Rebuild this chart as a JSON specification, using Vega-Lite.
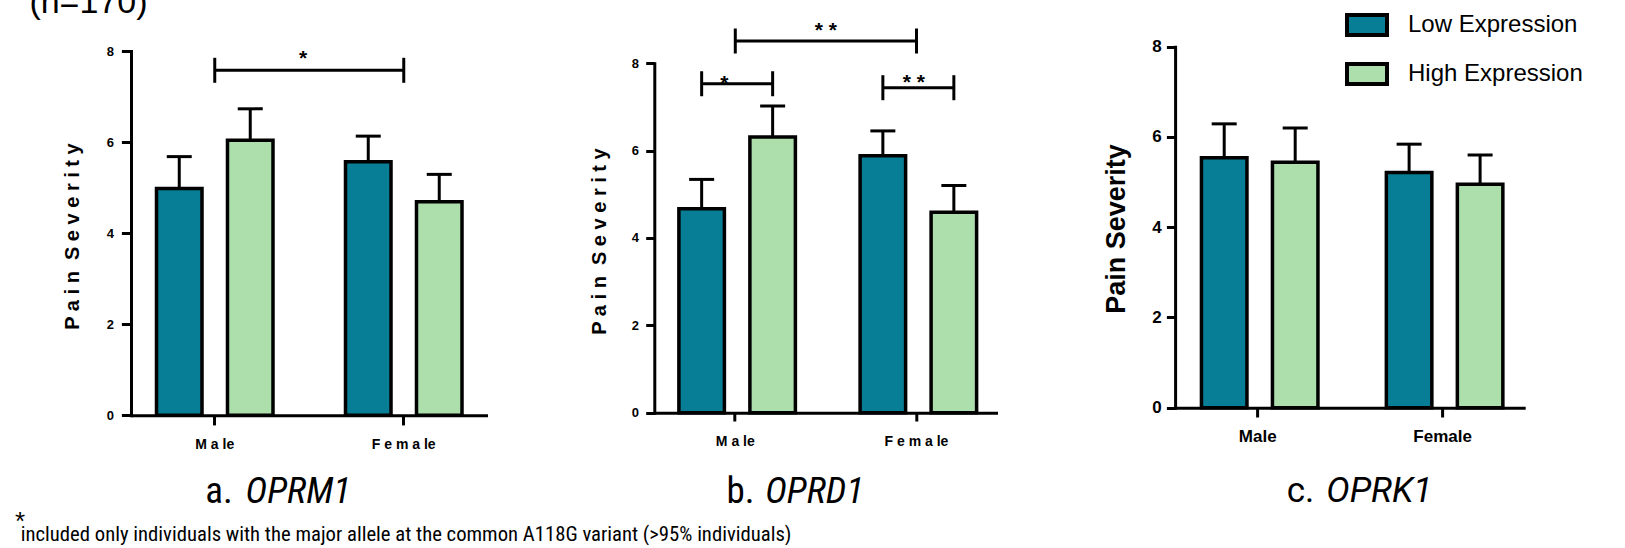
{
  "$schema": "https://vega.github.io/schema/vega-lite/v6.json",
  "padding": {"left": 15, "top": -15, "right": 0, "bottom": 0},
  "background": "white",
  "config": {
    "font": "Liberation Sans",
    "view": {"stroke": null},
    "axis": {"grid": false, "domainColor": "black", "tickColor": "black", "labelColor": "black", "titleColor": "black", "domainWidth": 3, "tickWidth": 3, "labelFont": "Liberation Sans", "titleFont": "Liberation Sans", "labelFontWeight": "bold", "titleFontWeight": "bold"}
  },
  "spacing": 166.3,
  "bounds": "flush",
  "hconcat": [
    {
      "width": 356.5,
      "height": 374.2,
      "layer": [
        {
          "data": {"values": [
            {"sex": "Male", "expression": "Low Expression", "mean": 4.98, "upper": 5.68},
            {"sex": "Male", "expression": "High Expression", "mean": 6.04, "upper": 6.73},
            {"sex": "Female", "expression": "Low Expression", "mean": 5.57, "upper": 6.13},
            {"sex": "Female", "expression": "High Expression", "mean": 4.69, "upper": 5.29}
          ]},
          "layer": [
            {
              "mark": {"type": "bar", "stroke": "black", "strokeWidth": 3.5},
              "encoding": {
                "x": {"field": "sex", "type": "nominal", "scale": {"domain": ["Male", "Female"], "paddingInner": 0.3836, "paddingOuter": 0.1349},
                  "axis": {"title": null, "labelAngle": 0, "bandPosition": 0.5, "tickSize": 9.7, "labelPadding": 13, "labelFontSize": 14, "labelExpr": "datum.value == 'Male' ? 'M a le' : 'F e m a le'"}},
                "xOffset": {"field": "expression", "type": "nominal", "scale": {"domain": ["Low Expression", "High Expression"], "paddingInner": 0.359, "paddingOuter": 0}},
                "y": {"field": "mean", "type": "quantitative", "scale": {"domain": [0, 8], "range": [374.2, 10]},
                  "axis": {"values": [0, 2, 4, 6, 8], "domainCap": "square", "tickSize": 9.6, "labelPadding": 7.8, "labelFontSize": 13, "title": "P a i n\u00a0 S e v e r i t y", "titleFontSize": 20, "titleX": -58.7, "titleY": 195, "titleAngle": 270, "titleAlign": "center", "titleBaseline": "middle"}},
                "color": {"field": "expression", "type": "nominal", "scale": {"domain": ["Low Expression", "High Expression"], "range": ["#087E96", "#ADDFAD"]},
                  "legend": {"title": null, "orient": "none", "legendX": 1214, "legendY": -38, "symbolType": "M-1,-0.5H1V0.5H-1Z", "symbolSize": 1600, "symbolStrokeColor": "black", "symbolStrokeWidth": 4, "symbolOpacity": 1, "labelFont": "Liberation Sans", "labelFontSize": 24, "labelColor": "black", "labelOffset": 19, "labelLimit": 0, "rowPadding": 9, "padding": 0}}
              }
            },
            {
              "mark": {"type": "rule", "color": "black", "strokeWidth": 3},
              "encoding": {
                "x": {"field": "sex", "type": "nominal"},
                "xOffset": {"field": "expression", "type": "nominal"},
                "y": {"field": "mean", "type": "quantitative"},
                "y2": {"field": "upper"}
              }
            },
            {
              "mark": {"type": "tick", "orient": "horizontal", "color": "black", "size": 25, "thickness": 3, "opacity": 1},
              "encoding": {
                "x": {"field": "sex", "type": "nominal"},
                "xOffset": {"field": "expression", "type": "nominal"},
                "y": {"field": "upper", "type": "quantitative"}
              }
            }
          ]
        },
        {
          "data": {"values": [
            {"bracket": "a1", "sex": "Male", "level": 7.576},
            {"bracket": "a1", "sex": "Female", "level": 7.576}
          ]},
          "layer": [
            {
              "mark": {"type": "line", "color": "black", "strokeWidth": 3},
              "encoding": {
                "x": {"field": "sex", "type": "nominal"},
                "y": {"field": "level", "type": "quantitative"},
                "detail": {"field": "bracket"}
              }
            },
            {
              "mark": {"type": "tick", "orient": "vertical", "color": "black", "size": 25, "thickness": 3, "opacity": 1},
              "encoding": {
                "x": {"field": "sex", "type": "nominal"},
                "y": {"field": "level", "type": "quantitative"}
              }
            }
          ]
        },
        {
          "data": {"values": [{"label": "*"}]},
          "mark": {"type": "text", "fontSize": 21, "fontWeight": "bold", "align": "center", "baseline": "alphabetic", "color": "black", "clip": false},
          "encoding": {
            "x": {"datum": "Male", "type": "nominal", "bandPosition": 1.258},
            "y": {"datum": 7.69, "type": "quantitative"},
            "text": {"field": "label"}
          }
        },
        {
          "data": {"values": [{"label": "a."}]},
          "mark": {"type": "text", "font": "'Roboto Condensed', 'Liberation Sans'", "fontSize": 37, "align": "right", "baseline": "alphabetic", "color": "black", "clip": false},
          "encoding": {
            "x": {"datum": "Male", "type": "nominal", "bandPosition": 0.655},
            "y": {"datum": -1.922, "type": "quantitative"},
            "text": {"field": "label"}
          }
        },
        {
          "data": {"values": [{"label": "OPRM1"}]},
          "mark": {"type": "text", "font": "'Roboto Condensed', 'Liberation Sans'", "fontSize": 37, "fontStyle": "italic", "align": "left", "baseline": "alphabetic", "color": "black", "clip": false},
          "encoding": {
            "x": {"datum": "Male", "type": "nominal", "bandPosition": 0.765},
            "y": {"datum": -1.922, "type": "quantitative"},
            "text": {"field": "label"}
          }
        },
        {
          "data": {"values": [{"label": "*"}]},
          "mark": {"type": "text", "fontSize": 26, "align": "left", "baseline": "alphabetic", "color": "black", "clip": false},
          "encoding": {
            "x": {"datum": "Male", "type": "nominal", "bandPosition": -1.214},
            "y": {"datum": -2.513, "type": "quantitative"},
            "text": {"field": "label"}
          }
        },
        {
          "data": {"values": [{"label": "included only individuals with the major allele at the common A118G variant (>95% individuals)"}]},
          "mark": {"type": "text", "font": "'Roboto Condensed', 'Liberation Sans'", "fontSize": 20.7, "align": "left", "baseline": "alphabetic", "color": "black", "clip": false},
          "encoding": {
            "x": {"datum": "Male", "type": "nominal", "bandPosition": -1.165},
            "y": {"datum": -2.763, "type": "quantitative"},
            "text": {"field": "label"}
          }
        },
        {
          "data": {"values": [{"label": "(n=170)"}]},
          "mark": {"type": "text", "fontSize": 34, "align": "left", "baseline": "alphabetic", "color": "black", "clip": false},
          "encoding": {
            "x": {"datum": "Male", "type": "nominal", "bandPosition": -1.091},
            "y": {"datum": 8.835, "type": "quantitative"},
            "text": {"field": "label"}
          }
        }
      ]
    },
    {
      "spacing": 176.8,
      "bounds": "flush",
      "hconcat": [
        {
          "width": 343.2,
          "height": 371.7,
          "layer": [
            {
              "data": {"values": [
                {"sex": "Male", "expression": "Low Expression", "mean": 4.67, "upper": 5.34},
                {"sex": "Male", "expression": "High Expression", "mean": 6.31, "upper": 7.02},
                {"sex": "Female", "expression": "Low Expression", "mean": 5.88, "upper": 6.45},
                {"sex": "Female", "expression": "High Expression", "mean": 4.59, "upper": 5.2}
              ]},
              "layer": [
                {
                  "mark": {"type": "bar", "stroke": "black", "strokeWidth": 3.5},
                  "encoding": {
                    "x": {"field": "sex", "type": "nominal", "scale": {"domain": ["Male", "Female"], "paddingInner": 0.3775, "paddingOuter": 0.1357},
                      "axis": {"title": null, "labelAngle": 0, "bandPosition": 0.5, "tickSize": 8.3, "labelPadding": 13, "labelFontSize": 14, "labelExpr": "datum.value == 'Male' ? 'M a le' : 'F e m a le'"}},
                    "xOffset": {"field": "expression", "type": "nominal", "scale": {"domain": ["Low Expression", "High Expression"], "paddingInner": 0.348, "paddingOuter": 0}},
                    "y": {"field": "mean", "type": "quantitative", "scale": {"domain": [0, 8], "range": [371.7, 22.2]},
                      "axis": {"values": [0, 2, 4, 6, 8], "domainCap": "square", "tickSize": 8.6, "labelPadding": 7.2, "labelFontSize": 13, "title": "P a i n\u00a0 S e v e r i t y", "titleFontSize": 20, "titleX": -55.3, "titleY": 200, "titleAngle": 270, "titleAlign": "center", "titleBaseline": "middle"}},
                    "color": {"field": "expression", "type": "nominal", "scale": {"domain": ["Low Expression", "High Expression"], "range": ["#087E96", "#ADDFAD"]},
                      "legend": {"title": null, "orient": "none", "legendX": 1214, "legendY": -38, "symbolType": "M-1,-0.5H1V0.5H-1Z", "symbolSize": 1600, "symbolStrokeColor": "black", "symbolStrokeWidth": 4, "symbolOpacity": 1, "labelFont": "Liberation Sans", "labelFontSize": 24, "labelColor": "black", "labelOffset": 19, "labelLimit": 0, "rowPadding": 9, "padding": 0}}
                  }
                },
                {
                  "mark": {"type": "rule", "color": "black", "strokeWidth": 3},
                  "encoding": {
                    "x": {"field": "sex", "type": "nominal"},
                    "xOffset": {"field": "expression", "type": "nominal"},
                    "y": {"field": "mean", "type": "quantitative"},
                    "y2": {"field": "upper"}
                  }
                },
                {
                  "mark": {"type": "tick", "orient": "horizontal", "color": "black", "size": 25, "thickness": 3, "opacity": 1},
                  "encoding": {
                    "x": {"field": "sex", "type": "nominal"},
                    "xOffset": {"field": "expression", "type": "nominal"},
                    "y": {"field": "upper", "type": "quantitative"}
                  }
                }
              ]
            },
            {
              "data": {"values": [
                {"bracket": "b1", "sex": "Male", "level": 8.508},
                {"bracket": "b1", "sex": "Female", "level": 8.508}
              ]},
              "layer": [
                {
                  "mark": {"type": "line", "color": "black", "strokeWidth": 3},
                  "encoding": {
                    "x": {"field": "sex", "type": "nominal"},
                    "y": {"field": "level", "type": "quantitative"},
                    "detail": {"field": "bracket"}
                  }
                },
                {
                  "mark": {"type": "tick", "orient": "vertical", "color": "black", "size": 25, "thickness": 3, "opacity": 1},
                  "encoding": {
                    "x": {"field": "sex", "type": "nominal"},
                    "y": {"field": "level", "type": "quantitative"}
                  }
                }
              ]
            },
            {
              "data": {"values": [
                {"bracket": "b2", "sex": "Male", "expression": "Low Expression", "level": 7.53},
                {"bracket": "b2", "sex": "Male", "expression": "High Expression", "level": 7.53},
                {"bracket": "b3", "sex": "Female", "expression": "Low Expression", "level": 7.439},
                {"bracket": "b3", "sex": "Female", "expression": "High Expression", "level": 7.439}
              ]},
              "layer": [
                {
                  "mark": {"type": "line", "color": "black", "strokeWidth": 3},
                  "encoding": {
                    "x": {"field": "sex", "type": "nominal"},
                    "xOffset": {"field": "expression", "type": "nominal"},
                    "y": {"field": "level", "type": "quantitative"},
                    "detail": {"field": "bracket"}
                  }
                },
                {
                  "mark": {"type": "tick", "orient": "vertical", "color": "black", "size": 25, "thickness": 3, "opacity": 1},
                  "encoding": {
                    "x": {"field": "sex", "type": "nominal"},
                    "xOffset": {"field": "expression", "type": "nominal"},
                    "y": {"field": "level", "type": "quantitative"}
                  }
                }
              ]
            },
            {
              "data": {"values": [{"label": "*  *"}]},
              "mark": {"type": "text", "fontSize": 21, "fontWeight": "bold", "align": "center", "baseline": "alphabetic", "color": "black", "clip": false},
              "encoding": {
                "x": {"datum": "Male", "type": "nominal", "bandPosition": 1.303},
                "y": {"datum": 8.6, "type": "quantitative"},
                "text": {"field": "label"}
              }
            },
            {
              "data": {"values": [{"label": "*"}]},
              "mark": {"type": "text", "fontSize": 21, "fontWeight": "bold", "align": "center", "baseline": "alphabetic", "color": "black", "clip": false},
              "encoding": {
                "x": {"datum": "Male", "type": "nominal", "bandPosition": 0.404},
                "y": {"datum": 7.38, "type": "quantitative"},
                "text": {"field": "label"}
              }
            },
            {
              "data": {"values": [{"label": "*  *"}]},
              "mark": {"type": "text", "fontSize": 21, "fontWeight": "bold", "align": "center", "baseline": "alphabetic", "color": "black", "clip": false},
              "encoding": {
                "x": {"datum": "Female", "type": "nominal", "bandPosition": 0.476},
                "y": {"datum": 7.42, "type": "quantitative"},
                "text": {"field": "label"}
              }
            },
            {
              "data": {"values": [{"label": "b."}]},
              "mark": {"type": "text", "font": "'Roboto Condensed', 'Liberation Sans'", "fontSize": 37, "align": "right", "baseline": "alphabetic", "color": "black", "clip": false},
              "encoding": {
                "x": {"datum": "Male", "type": "nominal", "bandPosition": 0.67},
                "y": {"datum": -2.06, "type": "quantitative"},
                "text": {"field": "label"}
              }
            },
            {
              "data": {"values": [{"label": "OPRD1"}]},
              "mark": {"type": "text", "font": "'Roboto Condensed', 'Liberation Sans'", "fontSize": 37, "fontStyle": "italic", "align": "left", "baseline": "alphabetic", "color": "black", "clip": false},
              "encoding": {
                "x": {"datum": "Male", "type": "nominal", "bandPosition": 0.765},
                "y": {"datum": -2.06, "type": "quantitative"},
                "text": {"field": "label"}
              }
            }
          ]
        },
        {
          "width": 350.1,
          "height": 366.7,
          "layer": [
            {
              "data": {"values": [
                {"sex": "Male", "expression": "Low Expression", "mean": 5.54, "upper": 6.29},
                {"sex": "Male", "expression": "High Expression", "mean": 5.44, "upper": 6.2},
                {"sex": "Female", "expression": "Low Expression", "mean": 5.21, "upper": 5.84},
                {"sex": "Female", "expression": "High Expression", "mean": 4.95, "upper": 5.6}
              ]},
              "layer": [
                {
                  "mark": {"type": "bar", "stroke": "black", "strokeWidth": 3.5},
                  "encoding": {
                    "x": {"field": "sex", "type": "nominal", "scale": {"domain": ["Male", "Female"], "paddingInner": 0.3916, "paddingOuter": 0.1425},
                      "axis": {"title": null, "labelAngle": 0, "bandPosition": 0.5, "tickSize": 9.3, "labelPadding": 11.5, "labelFontSize": 17}},
                    "xOffset": {"field": "expression", "type": "nominal", "scale": {"domain": ["Low Expression", "High Expression"], "paddingInner": 0.393, "paddingOuter": 0}},
                    "y": {"field": "mean", "type": "quantitative", "scale": {"domain": [0, 8], "range": [366.7, 5.7]},
                      "axis": {"values": [0, 2, 4, 6, 8], "domainCap": "square", "tickSize": 8.7, "labelPadding": 5.1, "labelFontSize": 17, "title": "Pain Severity", "titleFontSize": 27, "titleX": -59, "titleY": 187.5, "titleAngle": 270, "titleAlign": "center", "titleBaseline": "middle"}},
                    "color": {"field": "expression", "type": "nominal", "scale": {"domain": ["Low Expression", "High Expression"], "range": ["#087E96", "#ADDFAD"]},
                      "legend": {"title": null, "orient": "none", "legendX": 1214, "legendY": -38, "symbolType": "M-1,-0.5H1V0.5H-1Z", "symbolSize": 1600, "symbolStrokeColor": "black", "symbolStrokeWidth": 4, "symbolOpacity": 1, "labelFont": "Liberation Sans", "labelFontSize": 24, "labelColor": "black", "labelOffset": 19, "labelLimit": 0, "rowPadding": 9, "padding": 0}}
                  }
                },
                {
                  "mark": {"type": "rule", "color": "black", "strokeWidth": 3},
                  "encoding": {
                    "x": {"field": "sex", "type": "nominal"},
                    "xOffset": {"field": "expression", "type": "nominal"},
                    "y": {"field": "mean", "type": "quantitative"},
                    "y2": {"field": "upper"}
                  }
                },
                {
                  "mark": {"type": "tick", "orient": "horizontal", "color": "black", "size": 25, "thickness": 3, "opacity": 1},
                  "encoding": {
                    "x": {"field": "sex", "type": "nominal"},
                    "xOffset": {"field": "expression", "type": "nominal"},
                    "y": {"field": "upper", "type": "quantitative"}
                  }
                }
              ]
            },
            {
              "data": {"values": [{"label": "c."}]},
              "mark": {"type": "text", "font": "Roboto", "fontSize": 35, "align": "right", "baseline": "alphabetic", "color": "black", "clip": false},
              "encoding": {
                "x": {"datum": "Male", "type": "nominal", "bandPosition": 1.003},
                "y": {"datum": -2.09, "type": "quantitative"},
                "text": {"field": "label"}
              }
            },
            {
              "data": {"values": [{"label": "OPRK1"}]},
              "mark": {"type": "text", "font": "Roboto", "fontSize": 35, "fontStyle": "italic", "align": "left", "baseline": "alphabetic", "color": "black", "clip": false},
              "encoding": {
                "x": {"datum": "Male", "type": "nominal", "bandPosition": 1.11},
                "y": {"datum": -2.09, "type": "quantitative"},
                "text": {"field": "label"}
              }
            }
          ]
        }
      ]
    }
  ]
}
